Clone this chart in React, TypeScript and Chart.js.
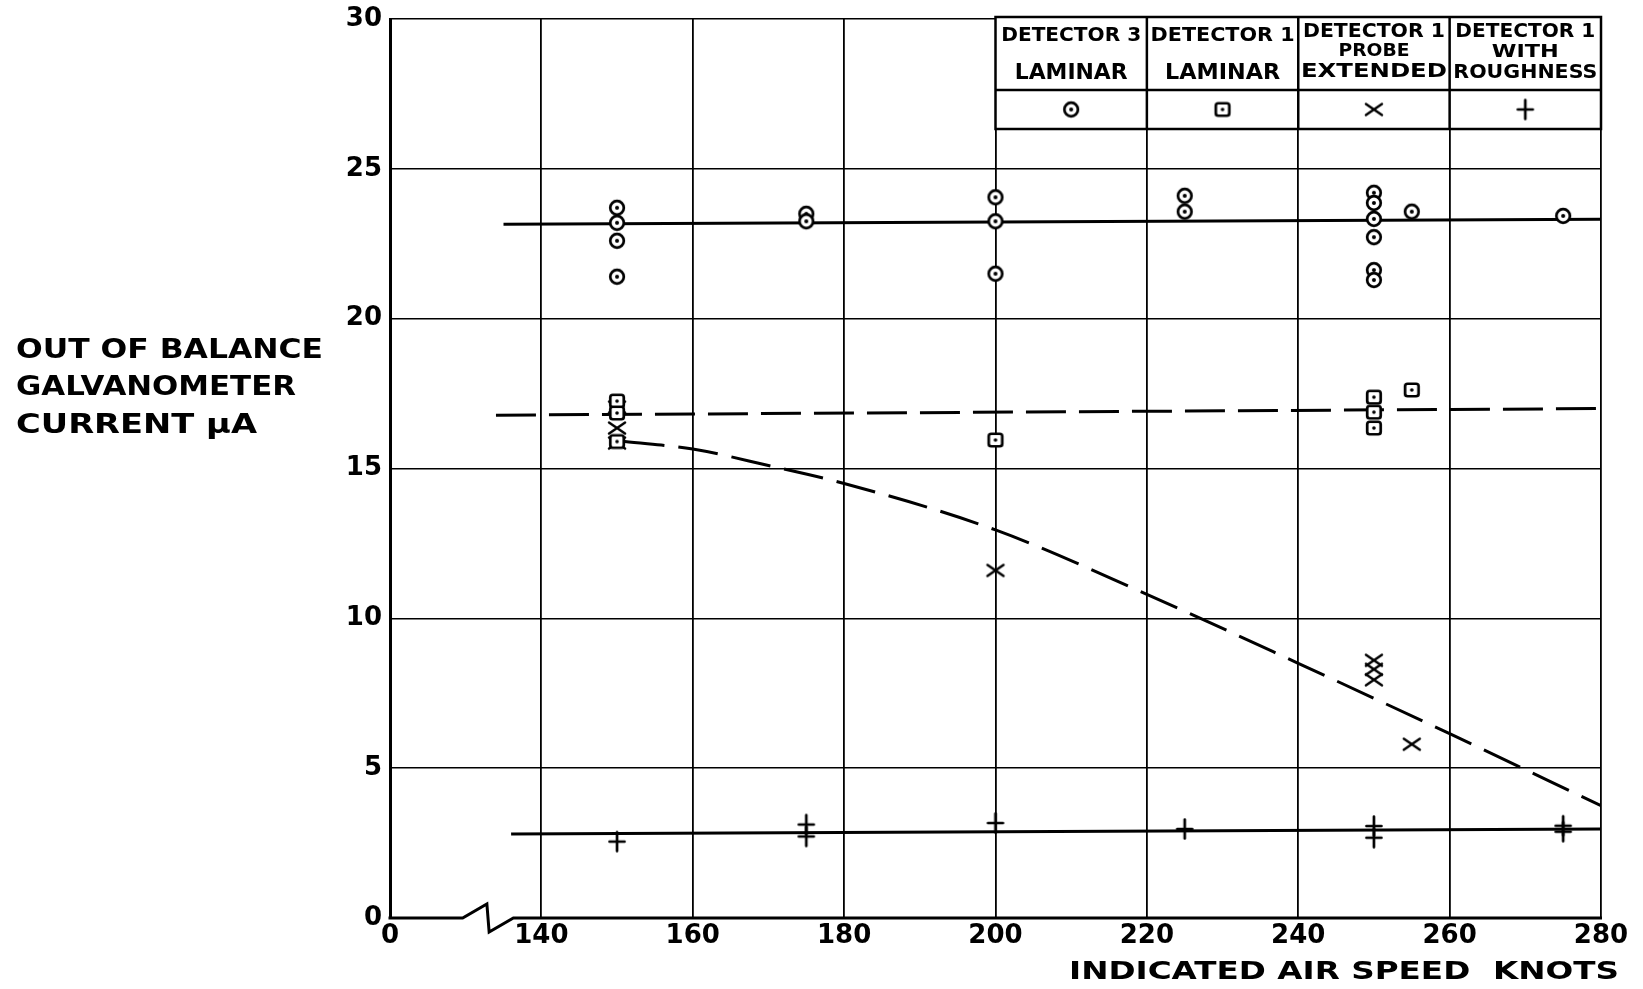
import React, { useEffect, useRef } from "react";
import { Chart, registerables } from "chart.js";

Chart.register(...registerables);

// ---------- data ----------
const xTickValues = [120, 140, 160, 180, 200, 220, 240, 260, 280];
const xTickLabels = ["0", "140", "160", "180", "200", "220", "240", "260", "280"];

// Detector 3 laminar (circle with dot)
const det3LaminarX = [150, 150, 150, 150, 175, 175, 200, 200, 200, 225, 225, 250, 250, 250, 250, 250, 250, 255, 275];
const det3LaminarY = [23.7, 23.2, 22.6, 21.4, 23.5, 23.25, 24.05, 23.25, 21.5, 24.1, 23.57, 24.2, 23.86, 23.33, 22.72, 21.62, 21.29, 23.57, 23.43];

// Detector 1 laminar (square with dot)
const det1LaminarX = [150, 150, 150, 200, 250, 250, 250, 255];
const det1LaminarY = [17.25, 16.85, 15.9, 15.95, 17.38, 16.88, 16.35, 17.62];

// Detector 1 probe extended (x)
const probeExtendedX = [150, 150, 150, 200, 250, 250, 250, 255];
const probeExtendedY = [17.05, 16.35, 15.85, 11.6, 8.6, 8.3, 7.95, 5.8];

// Detector 1 with roughness (+)
const roughnessX = [150, 175, 175, 200, 225, 250, 250, 275, 275];
const roughnessY = [2.55, 3.12, 2.72, 3.17, 2.97, 3.07, 2.68, 3.08, 2.88];

// faired curves
const det3LineX = [135, 280];
const det3LineY = [23.15, 23.32];
const det1LineX = [134, 280];
const det1LineY = [16.78, 17.0];
const probeCurveX = [151, 160, 170, 180, 200, 220, 240, 260, 280];
const probeCurveY = [15.9, 15.65, 15.1, 14.5, 12.95, 10.8, 8.5, 6.15, 3.75];
const roughLineX = [136, 280];
const roughLineY = [2.8, 2.97];

const legendTitles = [
  ["DETECTOR 3", "LAMINAR"],
  ["DETECTOR 1", "LAMINAR"],
  ["DETECTOR 1", "PROBE", "EXTENDED"],
  ["DETECTOR 1", "WITH", "ROUGHNESS"],
];
const yTitleLines = ["OUT OF BALANCE", "GALVANOMETER", "CURRENT μA"];
const xTitle = "INDICATED AIR SPEED  KNOTS";

const FONT = "'DejaVu Sans', sans-serif";

const zip = (xs: number[], ys: number[]) => xs.map((x, i) => ({ x, y: ys[i] }));

function makeMarker(kind: string): HTMLCanvasElement {
  const c = document.createElement("canvas");
  c.width = 26;
  c.height = 26;
  const g = c.getContext("2d")!;
  g.translate(13, 13);
  g.strokeStyle = "#000";
  g.lineCap = "round";
  g.lineWidth = 2.7;
  if (kind === "circle") {
    g.beginPath();
    g.arc(0, 0, 6.8, 0, Math.PI * 2);
    g.fillStyle = "#fff";
    g.fill();
    g.stroke();
    g.beginPath();
    g.arc(0, 0, 2.0, 0, Math.PI * 2);
    g.fillStyle = "#000";
    g.fill();
  } else if (kind === "square") {
    g.beginPath();
    const r = 2.5, w = 13.5, h = 12.5;
    const x0 = -w / 2, y0 = -h / 2;
    g.moveTo(x0 + r, y0);
    g.lineTo(x0 + w - r, y0);
    g.quadraticCurveTo(x0 + w, y0, x0 + w, y0 + r);
    g.lineTo(x0 + w, y0 + h - r);
    g.quadraticCurveTo(x0 + w, y0 + h, x0 + w - r, y0 + h);
    g.lineTo(x0 + r, y0 + h);
    g.quadraticCurveTo(x0, y0 + h, x0, y0 + h - r);
    g.lineTo(x0, y0 + r);
    g.quadraticCurveTo(x0, y0, x0 + r, y0);
    g.closePath();
    g.fillStyle = "#fff";
    g.fill();
    g.stroke();
    g.beginPath();
    g.arc(0, 0, 1.8, 0, Math.PI * 2);
    g.fillStyle = "#000";
    g.fill();
  } else if (kind === "x") {
    g.lineWidth = 2.5;
    g.beginPath();
    g.moveTo(-8, -5.5);
    g.lineTo(8, 5.5);
    g.moveTo(-8, 5.5);
    g.lineTo(8, -5.5);
    g.stroke();
  } else {
    g.lineWidth = 2.7;
    g.beginPath();
    g.moveTo(-7.5, 0);
    g.lineTo(7.5, 0);
    g.moveTo(0, -9.5);
    g.lineTo(0, 9.5);
    g.stroke();
  }
  return c;
}

function fitText(
  ctx: CanvasRenderingContext2D,
  text: string,
  x: number,
  cy: number,
  w: number,
  size: number,
  align: "left" | "center"
) {
  ctx.font = `bold ${size}px ${FONT}`;
  const m = ctx.measureText(text).width;
  const sx = w / m;
  ctx.save();
  ctx.translate(align === "left" ? x : x - w / 2, cy);
  ctx.scale(sx, 1);
  ctx.textAlign = "left";
  ctx.textBaseline = "middle";
  ctx.fillStyle = "#000";
  ctx.fillText(text, 0, 0);
  ctx.restore();
}

export default function App() {
  const ref = useRef<HTMLCanvasElement | null>(null);

  useEffect(() => {
    if (!ref.current) return;
    const markers = {
      circle: makeMarker("circle"),
      square: makeMarker("square"),
      x: makeMarker("x"),
      plus: makeMarker("plus"),
    };

    const decor = {
      id: "decor",
      afterDraw(chart: any) {
        const { ctx, chartArea } = chart;
        const xs = chart.scales.x;
        ctx.save();
        // bottom axis with break
        ctx.strokeStyle = "#000";
        ctx.lineWidth = 3;
        ctx.lineJoin = "miter";
        const b = chartArea.bottom;
        ctx.beginPath();
        ctx.moveTo(chartArea.left - 1.5, b);
        ctx.lineTo(xs.getPixelForValue(129.6), b);
        ctx.lineTo(xs.getPixelForValue(132.8), b - 14);
        ctx.lineTo(xs.getPixelForValue(133.1), b + 14);
        ctx.lineTo(xs.getPixelForValue(136.3), b);
        ctx.lineTo(chartArea.right + 1, b);
        ctx.stroke();

        // legend table
        const top = chartArea.top - 2;
        const div = top + 73;
        const bot = top + 112;
        const cols = [200, 220, 240, 260, 280].map((v) => xs.getPixelForValue(v));
        ctx.fillStyle = "#fff";
        ctx.fillRect(cols[0], top, cols[4] - cols[0], bot - top);
        ctx.strokeStyle = "#000";
        ctx.lineWidth = 2.5;
        ctx.strokeRect(cols[0], top, cols[4] - cols[0], bot - top);
        ctx.beginPath();
        ctx.moveTo(cols[0], div);
        ctx.lineTo(cols[4], div);
        for (let i = 1; i < 4; i++) {
          ctx.moveTo(cols[i], top);
          ctx.lineTo(cols[i], bot);
        }
        ctx.stroke();

        const specs = [
          [[140, 19, 19], [113, 22, 56]],
          [[144, 19, 19], [115, 22, 56]],
          [[142, 19, 15], [71, 17, 35], [146, 20, 55]],
          [[140, 19, 15], [67, 17, 36], [144, 20, 56]],
        ];
        const syms = [markers.circle, markers.square, markers.x, markers.plus];
        for (let i = 0; i < 4; i++) {
          const cx = (cols[i] + cols[i + 1]) / 2;
          legendTitles[i].forEach((t, j) => {
            const [w, s, dy] = specs[i][j];
            fitText(ctx, t, cx, top + dy, w, s, "center");
          });
          const img = syms[i];
          ctx.drawImage(img, cx - img.width / 2, (div + bot) / 2 - img.height / 2);
        }

        // axis titles
        const yW = [307, 280, 241];
        const yY = [351, 388, 426];
        yTitleLines.forEach((t, i) => fitText(ctx, t, 16, yY[i], yW[i], 26, "left"));
        fitText(ctx, xTitle, 1069, 972, 550, 25, "left");
        ctx.restore();
      },
    };

    const scatterBase = {
      type: "scatter" as const,
      pointRadius: 8,
      pointHoverRadius: 8,
      showLine: false,
    };
    const lineBase = {
      type: "scatter" as const,
      showLine: true,
      pointRadius: 0,
      pointHoverRadius: 0,
      borderColor: "#000",
      backgroundColor: "#000",
      borderWidth: 3,
      fill: false,
    };

    const chart = new Chart(ref.current, {
      type: "scatter",
      data: {
        datasets: [
          { ...scatterBase, label: "Detector 3 laminar", data: zip(det3LaminarX, det3LaminarY), pointStyle: markers.circle },
          { ...scatterBase, label: "Detector 1 laminar", data: zip(det1LaminarX, det1LaminarY), pointStyle: markers.square },
          { ...scatterBase, label: "Detector 1 probe extended", data: zip(probeExtendedX, probeExtendedY), pointStyle: markers.x },
          { ...scatterBase, label: "Detector 1 with roughness", data: zip(roughnessX, roughnessY), pointStyle: markers.plus },
          { ...lineBase, label: "fit det3", data: zip(det3LineX, det3LineY) },
          { ...lineBase, label: "fit det1", data: zip(det1LineX, det1LineY), borderDash: [40, 13] },
          {
            ...lineBase,
            label: "fit probe",
            data: zip(probeCurveX, probeCurveY),
            borderDash: [40, 14],
            cubicInterpolationMode: "monotone",
            tension: 0.4,
          },
          { ...lineBase, label: "fit rough", data: zip(roughLineX, roughLineY) },
        ] as any,
      },
      options: {
        animation: false,
        responsive: true,
        maintainAspectRatio: false,
        layout: { padding: { left: 0, top: 19, right: 42, bottom: 0 } },
        plugins: { legend: { display: false }, tooltip: { enabled: false } },
        events: [],
        scales: {
          x: {
            type: "linear",
            min: 120,
            max: 280,
            afterBuildTicks: (s: any) => {
              s.ticks = xTickValues.map((v) => ({ value: v }));
            },
            afterFit: (s: any) => {
              s.height = 71;
              s.paddingLeft = 0;
              s.paddingRight = 0;
            },
            ticks: {
              color: "#000",
              font: { family: FONT, size: 26, weight: "bold" },
              padding: 3,
              maxRotation: 0,
              autoSkip: false,
              callback: (v: any) => xTickLabels[xTickValues.indexOf(Number(v))] ?? "",
            },
            grid: {
              drawTicks: false,
              lineWidth: 1.8,
              color: (c: any) => (c.tick && c.tick.value === 120 ? "rgba(0,0,0,0)" : "#000"),
            },
            border: { display: false },
          },
          y: {
            type: "linear",
            min: 0,
            max: 30,
            afterFit: (s: any) => {
              s.width = 390;
              s.paddingTop = 0;
              s.paddingBottom = 0;
            },
            ticks: {
              stepSize: 5,
              color: "#000",
              font: { family: FONT, size: 26, weight: "bold" },
              padding: 8,
            },
            grid: {
              drawTicks: false,
              lineWidth: 1.6,
              color: (c: any) => (c.tick && c.tick.value === 0 ? "rgba(0,0,0,0)" : "#000"),
            },
            border: { display: true, color: "#000", width: 3 },
          },
        },
      },
      plugins: [decor],
    } as any);

    return () => chart.destroy();
  }, []);

  return (
    <div style={{ position: "absolute", left: 0, top: 0, width: 1643, height: 989, background: "#fff" }}>
      <canvas ref={ref} />
    </div>
  );
}
